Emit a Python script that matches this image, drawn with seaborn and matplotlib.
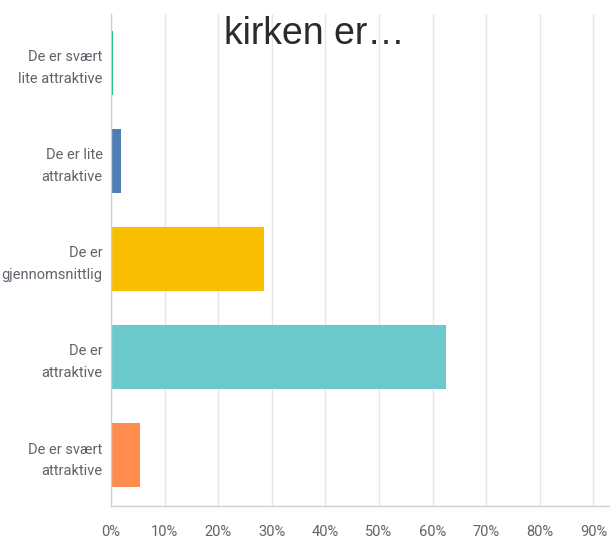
import matplotlib
matplotlib.use('Agg')
import matplotlib.pyplot as plt
import pandas as pd
import seaborn as sns

# Data
categories = [
    "De er svært\nlite attraktive",
    "De er lite\nattraktive",
    "De er\ngjennomsnittlig",
    "De er\nattraktive",
    "De er svært\nattraktive",
]
values = [0.4, 1.9, 28.6, 62.5, 5.4]
colors = ["#00BF6F", "#507CB6", "#F9BE00", "#6BC8CD", "#FF8B4F"]
tick_values = [0, 10, 20, 30, 40, 50, 60, 70, 80, 90]
tick_labels = [f"{v}%" for v in tick_values]
title = "kirken er…"

df = pd.DataFrame({"kategori": categories, "andel": values})

sns.set_style("white")
plt.rcParams['font.family'] = ['Roboto', 'DejaVu Sans']

fig = plt.figure(figsize=(6.1, 5.42), dpi=100)
ax = fig.add_axes([0.182, 0.0664, 0.818, 0.908])

sns.barplot(data=df, x="andel", y="kategori", hue="kategori", palette=colors,
            orient="h", width=0.66, saturation=1, legend=False, ax=ax,
            edgecolor="none")

ax.set_xlim(0, 93.1)
ax.set_ylim(4.52, -0.5)
ax.set_xticks(tick_values)
ax.set_xticklabels(tick_labels)
ax.set_xlabel("")
ax.set_ylabel("")
ax.tick_params(axis='x', colors="#5f636a", labelsize=10.5, length=0, pad=14)
ax.tick_params(axis='y', colors="#5f636a", labelsize=10.5, length=0, pad=6)
for lab in ax.get_yticklabels():
    lab.set_linespacing(1.65)

ax.grid(axis='x', color="#e6e6e6", linewidth=1)
ax.set_axisbelow(True)
for side in ['top', 'right']:
    ax.spines[side].set_visible(False)
for side in ['left', 'bottom']:
    ax.spines[side].set_color("#cfcfcf")
    ax.spines[side].set_linewidth(1)

fig.text(0.516, 0.938, title, ha='center', va='center', fontsize=27,
         color="#2b2b2b", family=['Liberation Sans', 'DejaVu Sans'])

fig.savefig("out.png", dpi=100)
